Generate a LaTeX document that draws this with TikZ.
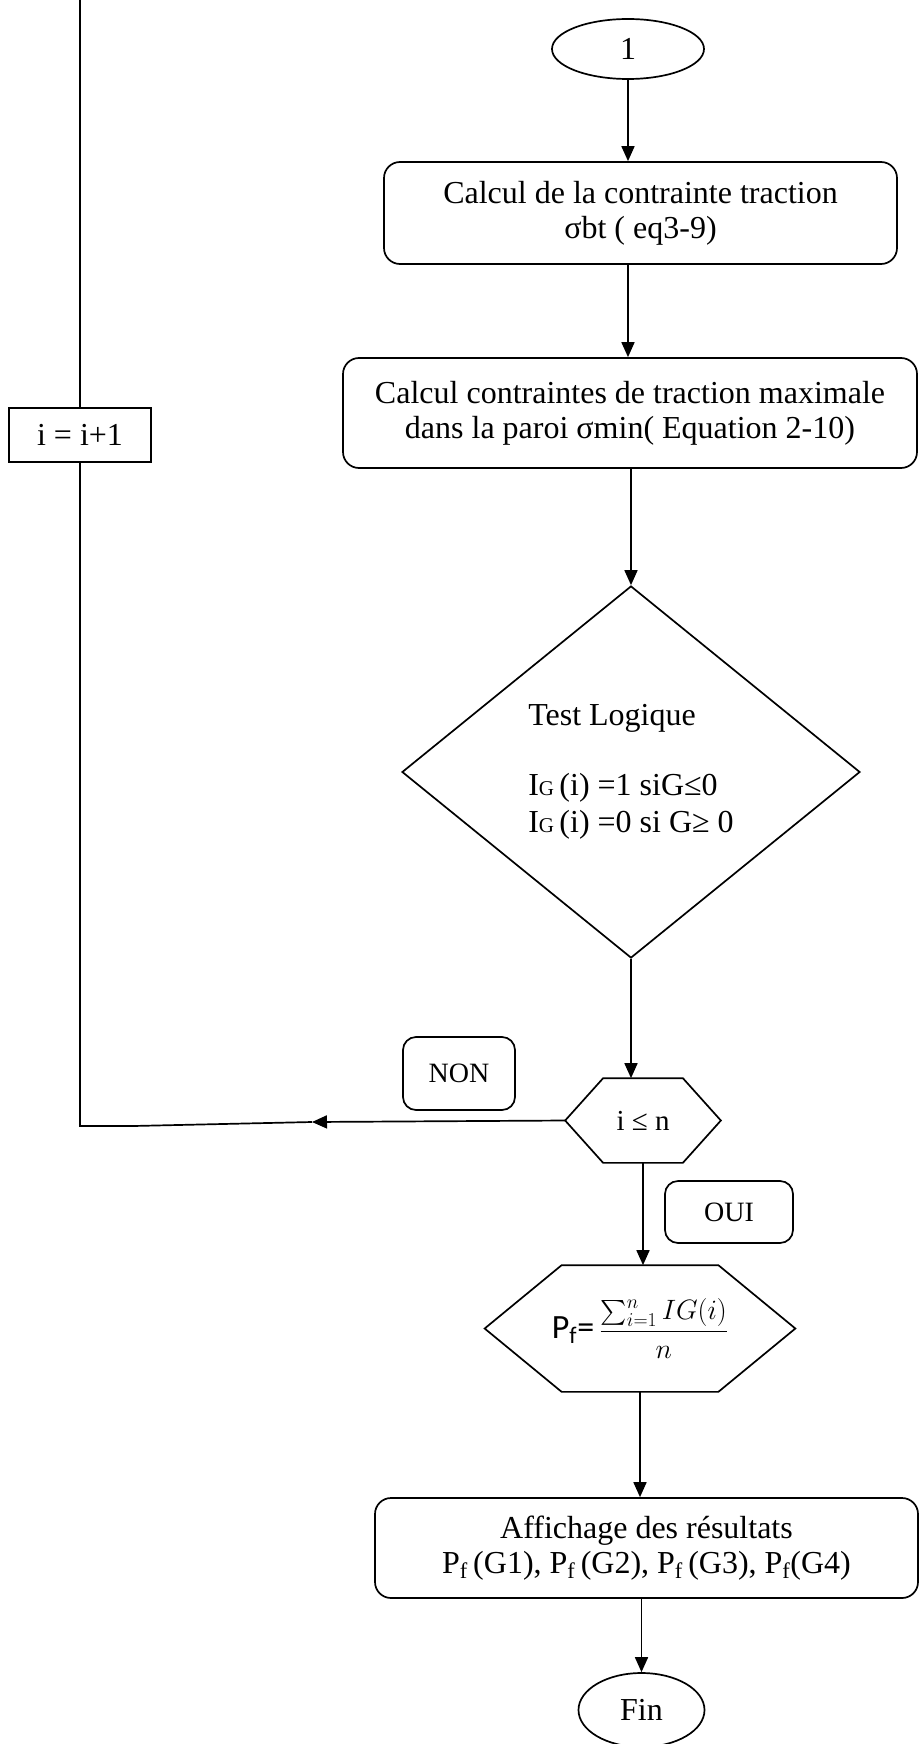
\documentclass[tikz,border=0pt]{standalone}
\usepackage{fix-cm}
\usepackage{amsmath}
\usepackage{fontspec}
\setmainfont{Liberation Serif}
\newfontfamily\carlito{Carlito}
\usetikzlibrary{arrows.meta,shapes.geometric}

% hexagon outline round a node: name, depth of the side tips
\newcommand\hexframe[2]{%
  \draw (#1.west) -- ([xshift=#2]#1.north west) -- ([xshift=-#2]#1.north east)
    -- (#1.east) -- ([xshift=-#2]#1.south east) -- ([xshift=#2]#1.south west) -- cycle;}

\begin{document}
\begin{tikzpicture}[x=1pt, y=-1pt, line width=1.7pt,
  font=\fontsize{32}{35}\selectfont,
  >={Triangle[length=15pt,width=13pt]},
  box/.style={draw, rounded corners=16pt, align=center, inner sep=0pt},
  oval/.style={draw, ellipse, inner sep=0pt},
  tag/.style={draw, rounded corners=13pt, inner sep=0pt, font=\fontsize{28}{30}\selectfont},
  hexa/.style={inner sep=0pt}]

  \useasboundingbox (0,0) rectangle (919,1744);

  % Main column
  \node[oval, minimum width=152pt, minimum height=60pt] (start) at (628,49) {1};
  \node[box, minimum width=513pt, minimum height=102pt] (calc1) at (640.5,213)
    {Calcul de la contrainte traction\\σbt ( eq3-9)};
  \node[box, minimum width=574pt, minimum height=110pt] (calc2) at (630,413)
    {Calcul contraintes de traction maximale\\dans la paroi σmin( Equation 2-10)};
  \node[draw, diamond, inner sep=0pt, minimum width=458pt, minimum height=372pt,
    align=left, font=\fontsize{32}{37}\selectfont] (test) at (631,772)
    {Test Logique\\[33pt]
     I{\fontsize{21}{21}\selectfont G}\,(i) =1 siG≤0\\
     I{\fontsize{21}{21}\selectfont G}\,(i) =0 si G≥ 0};

  % Loop test
  \node[hexa, minimum width=154pt, minimum height=83pt, font=\fontsize{29}{30}\selectfont]
    (cond) at (643,1120.5) {i ≤ n};
  \hexframe{cond}{38pt}
  \node[tag, minimum width=112pt, minimum height=73pt] (non) at (459,1073.5) {NON};
  \node[tag, minimum width=128pt, minimum height=62pt] (oui) at (729,1212) {OUI};

  % Probability and output
  \node[hexa, minimum width=309pt, minimum height=125pt] (pf) at (640,1328.5)
    {{\carlito\fontsize{34}{36}\selectfont P\textsubscript{f}=}\,{\fontsize{28}{30}\selectfont
     $\displaystyle\frac{\sum_{i=1}^{n} IG(i)}{n}$}};
  \hexframe{pf}{77pt}
  \node[box, minimum width=543pt, minimum height=100pt] (result) at (646.5,1548)
    {Affichage des résultats\\
     P\textsubscript{f}\,(G1), P\textsubscript{f}\,(G2), P\textsubscript{f}\,(G3), P\textsubscript{f}(G4)};
  \node[oval, minimum width=126pt, minimum height=74pt] (fin) at (641.5,1710) {Fin};

  % Counter on the return branch
  \node[draw, inner sep=0pt, minimum width=142pt, minimum height=54pt] (incr) at (80,435) {i = i+1};
  \coordinate (nonend) at (312,1122);  % tip of the NON arrow
  \coordinate (kink) at (133,1126);
  \coordinate (corner) at (80,1126);
  \coordinate (looptop) at (80,0);

  % Connectors
  \draw[->] (start.south) -- (start.south |- calc1.north);
  \draw[->] (calc1.south -| start.south) -- (calc2.north -| start.south);
  \draw[->] (calc2.south -| test.north) -- (test.north);
  \draw[->] (test.south) -- (test.south |- cond.north);
  \draw[->] (cond.west) -- (nonend);
  \draw (nonend) -- (kink) -- (corner) -- (incr.south);
  \draw (incr.north) -- (looptop);
  \draw[->] (cond.south) -- (cond.south |- pf.north);
  \draw[->] (pf.south) -- (pf.south |- result.north);
  \draw[->] (result.south -| fin.north) -- (fin.north);

\end{tikzpicture}
\end{document}
